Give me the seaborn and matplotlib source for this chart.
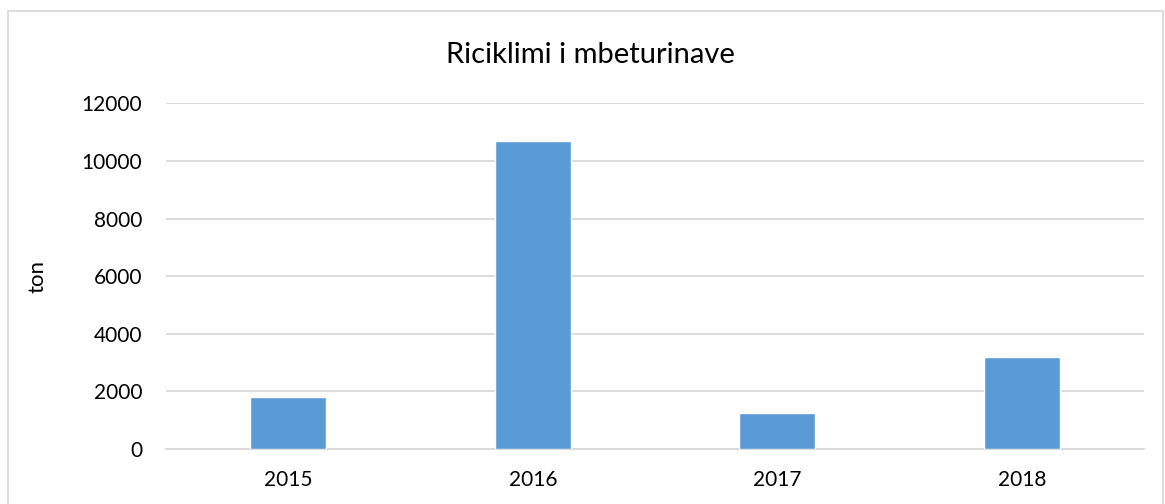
import numpy as np
import pandas as pd
import seaborn as sns
from matplotlib import pyplot as plt
from matplotlib.patches import Rectangle

years = ["2015", "2016", "2017", "2018"]
tons = [1800, 10690, 1250, 3195]
yticks = [0, 2000, 4000, 6000, 8000, 10000, 12000]

sns.set_theme(style="white")
plt.rcParams["font.family"] = ["Lato", "DejaVu Sans"]

df = pd.DataFrame({"year": years, "ton": tons})

fig = plt.figure(figsize=(11.65, 5.04), dpi=100)
ax = fig.add_axes([166 / 1165, 55 / 504, 978 / 1165, 345.6 / 504])

sns.barplot(data=df, x="year", y="ton", color="#5B9BD5", width=0.31,
            saturation=1, ax=ax, zorder=3)

ax.set_ylim(0, 12000)
ax.set_xlim(-0.5, 3.5)
ax.set_yticks(yticks)
ax.set_yticklabels([str(t) for t in yticks])
ax.yaxis.grid(True, color="#D9D9D9", linewidth=1.3, zorder=0)
ax.set_axisbelow(True)
for s in ["top", "right", "left"]:
    ax.spines[s].set_visible(False)
ax.spines["bottom"].set_color("#D9D9D9")
ax.spines["bottom"].set_linewidth(1.3)
ax.tick_params(axis="y", length=0, pad=17, labelsize=15, labelcolor="#000000")
ax.tick_params(axis="x", length=0, pad=15, labelsize=15, labelcolor="#000000")
ax.set_xlabel("")
ax.set_ylabel("ton", fontsize=16, labelpad=25, color="#000000")
fig.text(590 / 1165, 1 - 55 / 504, "Riciklimi i mbeturinave", fontsize=21,
         ha="center", va="center", color="#000000")

# light frame around the chart (as in the original spreadsheet export)
fig.patches.append(Rectangle((8 / 1165, -0.05), 1155 / 1165, 1.05 - 11 / 504,
                             transform=fig.transFigure, fill=False,
                             edgecolor="#D9D9D9", linewidth=1.3))

fig.savefig("out.png", dpi=100)
